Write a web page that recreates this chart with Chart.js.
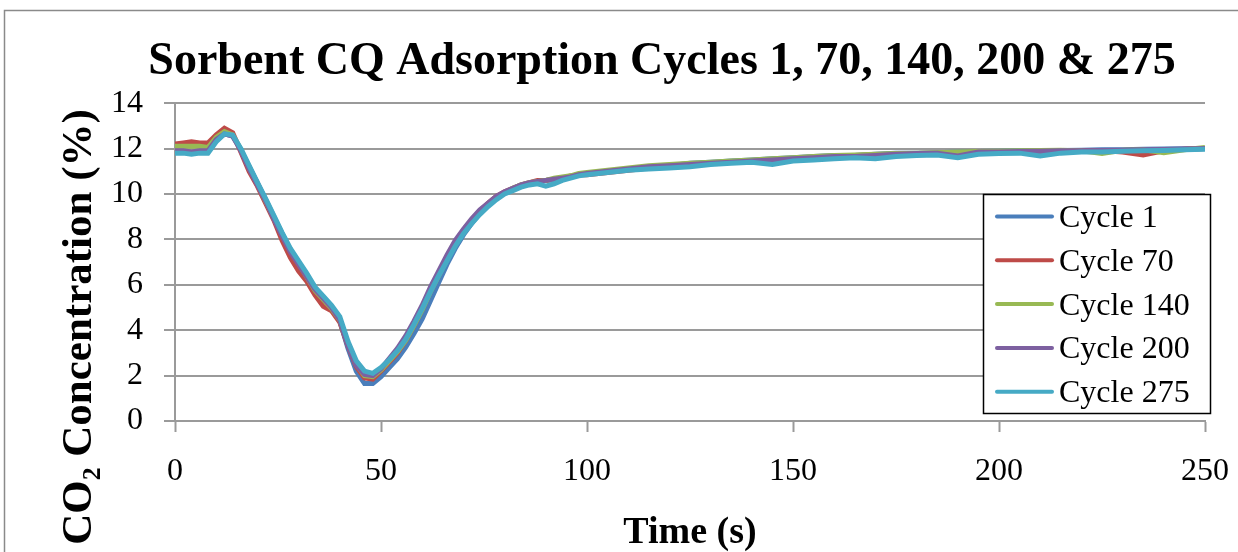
<!DOCTYPE html>
<html>
<head>
<meta charset="utf-8">
<title>Sorbent CQ Adsorption Cycles</title>
<script src="https://cdn.jsdelivr.net/npm/chart.js@4.4.1/dist/chart.umd.min.js"></script>
<style>
  html, body { margin: 0; padding: 0; background: #fff; }
  canvas { display: block; }
</style>
</head>
<body>
<canvas id="chart" width="1238" height="552"></canvas>
<script>
// time axis (s): 2 s steps through the dip, 5 s steps in the tail
const time = [
  0, 2, 4, 6, 8, 10, 12, 14, 16, 18, 20, 22, 24, 26, 28, 30, 32, 34, 36, 38,
  40, 42, 44, 46, 48, 50, 52, 54, 56, 58, 60, 62, 64, 66, 68, 70, 72, 74, 76, 78,
  80, 82, 84, 86, 88, 90, 92, 94, 96, 98, 100,
  105, 110, 115, 120, 125, 130, 135, 140, 145, 150, 155, 160, 165, 170, 175,
  180, 185, 190, 195, 200, 205, 210, 215, 220, 225, 230, 235, 240, 245, 250,
];

// CO2 concentration (%)
const cycle1 = [
  11.85, 11.85, 11.8, 11.85, 11.85, 12.35, 12.65, 12.55, 11.95, 11.2,
  10.5, 9.75, 9.0, 8.25, 7.55, 7.0, 6.45, 5.85, 5.45, 5.05,
  4.4, 3.2, 2.2, 1.65, 1.65, 1.95, 2.35, 2.75, 3.25, 3.85,
  4.5, 5.3, 6.1, 6.9, 7.6, 8.2, 8.7, 9.15, 9.5, 9.8,
  10.05, 10.2, 10.35, 10.45, 10.5, 10.6, 10.65, 10.7, 10.75, 10.85, 10.9,
  11.0, 11.1, 11.2, 11.25, 11.35, 11.4, 11.45, 11.5, 11.55, 11.6,
  11.65, 11.7, 11.7, 11.75, 11.8, 11.8, 11.82, 11.85, 11.87, 11.88,
  11.9, 11.9, 11.92, 11.93, 11.95, 11.95, 11.97, 11.98, 11.99, 12.0,
];
const cycle70 = [
  12.2, 12.25, 12.3, 12.25, 12.25, 12.6, 12.9, 12.7, 11.85, 11.0,
  10.35, 9.6, 8.85, 7.95, 7.2, 6.6, 6.15, 5.55, 5.05, 4.85,
  4.35, 3.3, 2.4, 1.9, 1.85, 2.2, 2.6, 3.0, 3.55, 4.2,
  4.95, 5.8, 6.5, 7.2, 7.85, 8.4, 8.85, 9.25, 9.6, 9.9,
  10.1, 10.25, 10.4, 10.5, 10.6, 10.6, 10.65, 10.7, 10.8, 10.85, 10.85,
  10.95, 11.05, 11.15, 11.2, 11.3, 11.35, 11.4, 11.45, 11.5, 11.55,
  11.6, 11.65, 11.7, 11.72, 11.75, 11.78, 11.8, 11.82, 11.85, 11.85,
  11.87, 11.88, 11.9, 11.9, 11.92, 11.85, 11.72, 11.9, 11.97, 12.0,
];
const cycle140 = [
  12.1, 12.1, 12.1, 12.1, 12.05, 12.5, 12.75, 12.6, 11.95, 11.15,
  10.45, 9.7, 8.95, 8.2, 7.5, 6.95, 6.35, 5.75, 5.35, 4.95,
  4.45, 3.35, 2.5, 2.0, 1.95, 2.25, 2.65, 3.05, 3.55, 4.2,
  4.9, 5.7, 6.4, 7.1, 7.75, 8.3, 8.75, 9.2, 9.55, 9.85,
  10.05, 10.25, 10.4, 10.5, 10.55, 10.6, 10.7, 10.75, 10.8, 10.9, 10.95,
  11.05, 11.15, 11.25, 11.3, 11.35, 11.4, 11.45, 11.5, 11.55, 11.6,
  11.65, 11.7, 11.72, 11.75, 11.78, 11.8, 11.82, 11.85, 11.87, 11.88,
  11.9, 11.92, 11.93, 11.9, 11.78, 11.93, 11.95, 11.82, 11.95, 12.05,
];
const cycle200 = [
  11.9, 11.9, 11.85, 11.9, 11.9, 12.4, 12.65, 12.55, 11.9, 11.1,
  10.4, 9.7, 8.9, 8.15, 7.45, 6.9, 6.35, 5.8, 5.4, 5.0,
  4.45, 3.3, 2.45, 2.05, 2.0, 2.3, 2.75, 3.2, 3.75, 4.4,
  5.1, 5.9, 6.6, 7.3, 7.95, 8.45, 8.9, 9.3, 9.6, 9.9,
  10.1, 10.25, 10.4, 10.5, 10.55, 10.6, 10.65, 10.7, 10.75, 10.85, 10.9,
  11.0, 11.1, 11.2, 11.25, 11.3, 11.35, 11.4, 11.45, 11.5, 11.55,
  11.6, 11.65, 11.65, 11.7, 11.75, 11.78, 11.8, 11.68, 11.85, 11.85,
  11.87, 11.88, 11.9, 11.9, 11.92, 11.93, 11.95, 11.96, 11.98, 12.0,
];
const cycle275 = [
  11.8, 11.8, 11.75, 11.8, 11.8, 12.3, 12.65, 12.6, 12.0, 11.25,
  10.5, 9.8, 9.05, 8.3, 7.6, 7.05, 6.5, 5.9, 5.5, 5.1,
  4.6, 3.5, 2.65, 2.2, 2.1, 2.35, 2.7, 3.1, 3.6, 4.25,
  4.95, 5.7, 6.4, 7.05, 7.7, 8.25, 8.7, 9.1, 9.45, 9.75,
  10.0, 10.15, 10.3, 10.4, 10.45, 10.35, 10.45, 10.6, 10.7, 10.8, 10.85,
  10.95, 11.05, 11.1, 11.15, 11.2, 11.3, 11.35, 11.4, 11.3, 11.45,
  11.5, 11.55, 11.6, 11.55, 11.65, 11.7, 11.72, 11.6, 11.75, 11.78,
  11.8, 11.68, 11.8, 11.85, 11.85, 11.88, 11.9, 11.92, 11.95, 11.97,
];

const seriesNames = ["Cycle 1", "Cycle 70", "Cycle 140", "Cycle 200", "Cycle 275"];
const seriesValues = [cycle1, cycle70, cycle140, cycle200, cycle275];
const seriesColors = ["#4a7ebb", "#be4b48", "#98b954", "#7d60a0", "#46aac5"];
const xTicks = [0, 50, 100, 150, 200, 250];
const yTicks = [0, 2, 4, 6, 8, 10, 12, 14];

const SERIF = '"Liberation Serif", "Times New Roman", serif';
const GRID = "#9a9a9a";

// outer frame, y title and the boxed legend are drawn by hand
const decor = {
  id: "decor",
  beforeDraw(chart) {
    const ctx = chart.ctx;
    ctx.save();
    ctx.fillStyle = "#fff";
    ctx.fillRect(0, 0, chart.width, chart.height);
    ctx.strokeStyle = "#8a8a8a";
    ctx.lineWidth = 1.5;
    ctx.beginPath();
    ctx.moveTo(4.5, chart.height);
    ctx.lineTo(4.5, 10.5);
    ctx.lineTo(chart.width, 10.5);
    ctx.stroke();
    ctx.restore();
  },
  afterDraw(chart) {
    const ctx = chart.ctx;
    ctx.save();
    // y axis title, centred lower than the plot like the original
    ctx.translate(91, 327);
    ctx.rotate(-Math.PI / 2);
    ctx.font = "bold 43px " + SERIF;
    ctx.fillStyle = "#000";
    ctx.textAlign = "center";
    ctx.textBaseline = "alphabetic";
    ctx.fillText("CO\u2082 Concentration (%)", 0, 0);
    ctx.restore();

    // legend box
    const box = { x: 983.5, y: 194.5, w: 227, h: 219 };
    ctx.save();
    ctx.fillStyle = "#fff";
    ctx.fillRect(box.x, box.y, box.w, box.h);
    ctx.strokeStyle = "#000";
    ctx.lineWidth = 1.5;
    ctx.strokeRect(box.x, box.y, box.w, box.h);
    ctx.font = "32px " + SERIF;
    ctx.textBaseline = "middle";
    ctx.textAlign = "left";
    chart.data.datasets.forEach((ds, i) => {
      const y = 216.5 + i * 43.8;
      ctx.strokeStyle = ds.borderColor;
      ctx.lineWidth = 4;
      ctx.lineCap = "round";
      ctx.beginPath();
      ctx.moveTo(997, y);
      ctx.lineTo(1052, y);
      ctx.stroke();
      ctx.fillStyle = "#000";
      ctx.fillText(ds.label, 1059, y + 2);
    });
    ctx.restore();
  },
};

const datasets = seriesNames.map((name, i) => ({
  label: name,
  data: time.map((t, k) => ({ x: t, y: seriesValues[i][k] })),
  borderColor: seriesColors[i],
  backgroundColor: seriesColors[i],
  borderWidth: 5,
  pointRadius: 0,
  tension: 0,
  order: seriesNames.length - 1 - i, // later cycles on top
}));

new Chart(document.getElementById("chart"), {
  type: "line",
  data: { datasets },
  plugins: [decor],
  options: {
    responsive: false,
    animation: false,
    layout: { padding: { left: 86, top: 0, right: 0, bottom: 0 } },
    plugins: {
      legend: { display: false },
      tooltip: { enabled: false },
      title: {
        display: true,
        text: "Sorbent CQ Adsorption Cycles 1, 70, 140, 200 & 275",
        color: "#000",
        font: { family: SERIF, size: 46, weight: "bold" },
        padding: { top: 35, bottom: 13 },
      },
    },
    scales: {
      x: {
        type: "linear",
        min: 0,
        max: 250,
        afterBuildTicks: (s) => { s.ticks = xTicks.map((v) => ({ value: v })); },
        afterFit: (s) => { s.height = 131; s.paddingRight = 33; },
        grid: { drawOnChartArea: false, drawTicks: true, tickLength: 11, tickColor: GRID, tickWidth: 2 },
        border: { display: true, color: GRID, width: 2 },
        ticks: { color: "#000", padding: 20, maxRotation: 0, font: { family: SERIF, size: 32 } },
        title: {
          display: true,
          text: "Time (s)",
          color: "#000",
          font: { family: SERIF, size: 38, weight: "bold", lineHeight: 1 },
          padding: 0,
        },
      },
      y: {
        min: 0,
        max: 14,
        afterBuildTicks: (s) => { s.ticks = yTicks.map((v) => ({ value: v })); },
        afterFit: (s) => { s.width = 89; },
        grid: { color: GRID, lineWidth: 2, drawTicks: true, tickLength: 11, tickColor: GRID, tickWidth: 2 },
        border: { display: true, color: GRID, width: 2 },
        ticks: { color: "#000", padding: 21, font: { family: SERIF, size: 32 } },
      },
    },
  },
});
</script>
</body>
</html>
